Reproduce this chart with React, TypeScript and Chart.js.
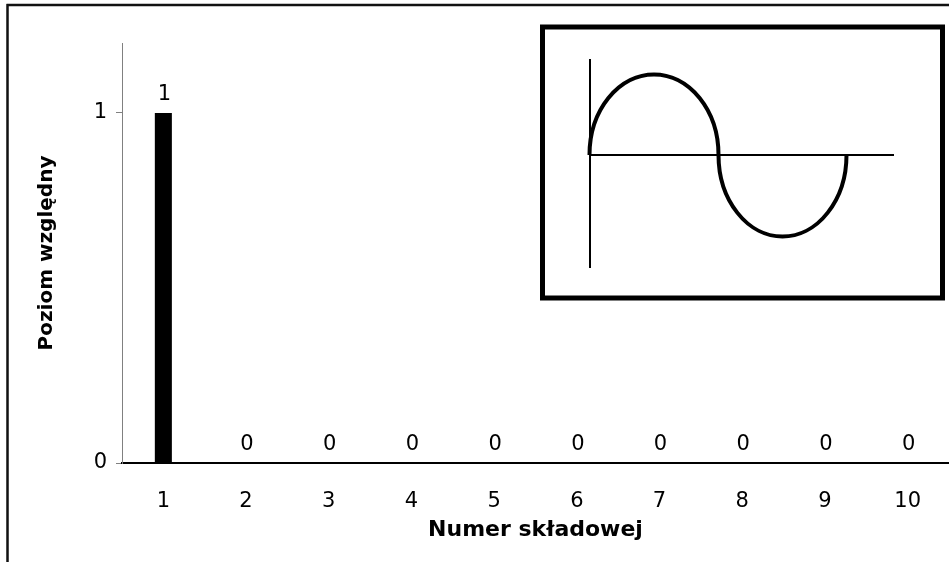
import React, { useEffect, useRef } from "react";
import { Chart, registerables } from "chart.js";

Chart.register(...registerables);

const categories: string[] = ["1", "2", "3", "4", "5", "6", "7", "8", "9", "10"];
const levels: number[] = [1, 0, 0, 0, 0, 0, 0, 0, 0, 0];
const yTicks: number[] = [0, 1];
const yMax = 1.2;
const xTitle = "Numer składowej";
const yTitle = "Poziom względny";

const FONT = "'DejaVu Sans', Verdana, sans-serif";

const framePlugin = {
  id: "frame",
  beforeDraw(chart: any) {
    const ctx = chart.ctx;
    ctx.save();
    ctx.fillStyle = "#ffffff";
    ctx.fillRect(0, 0, chart.width, chart.height);
    ctx.strokeStyle = "#111111";
    ctx.lineWidth = 2.5;
    ctx.beginPath();
    ctx.moveTo(6.5, 5);
    ctx.lineTo(chart.width, 5);
    ctx.moveTo(7.5, 4);
    ctx.lineTo(7.5, chart.height);
    ctx.stroke();
    ctx.restore();
  },
};

const insetPlugin = {
  id: "inset",
  afterDraw(chart: any) {
    const ctx = chart.ctx;
    ctx.save();
    ctx.strokeStyle = "#000000";
    ctx.lineWidth = 5;
    ctx.strokeRect(542.5, 27, 400, 271);
    ctx.lineWidth = 2;
    ctx.beginPath();
    ctx.moveTo(590, 59);
    ctx.lineTo(590, 268);
    ctx.moveTo(590, 155);
    ctx.lineTo(894, 155);
    ctx.stroke();
    ctx.lineWidth = 4;
    ctx.beginPath();
    ctx.ellipse(654, 155, 64.5, 80.5, 0, Math.PI, 2 * Math.PI, false);
    ctx.stroke();
    ctx.beginPath();
    ctx.ellipse(782.5, 155, 64, 81.5, 0, 0, Math.PI, false);
    ctx.stroke();
    ctx.restore();
  },
};

const labelPlugin = {
  id: "valueLabels",
  afterDatasetsDraw(chart: any) {
    const ctx = chart.ctx;
    const meta = chart.getDatasetMeta(0);
    ctx.save();
    ctx.font = `21px ${FONT}`;
    ctx.fillStyle = "#000000";
    ctx.textAlign = "center";
    ctx.textBaseline = "alphabetic";
    meta.data.forEach((el: any, i: number) => {
      ctx.fillText(String(levels[i]), el.x + 1, el.y - 13.5);
    });
    ctx.restore();
  },
};

export default function App() {
  const ref = useRef<HTMLCanvasElement>(null);
  useEffect(() => {
    if (!ref.current) return;
    const chart = new Chart(ref.current, {
      type: "bar",
      data: {
        labels: categories,
        datasets: [
          {
            data: levels,
            backgroundColor: "#000000",
            borderWidth: 0,
            categoryPercentage: 1,
            barPercentage: 0.206,
          },
        ],
      },
      options: {
        responsive: false,
        animation: false,
        layout: { padding: { left: 10, top: 43, right: 0, bottom: 0 } },
        plugins: {
          legend: { display: false },
          tooltip: { enabled: false },
        },
        scales: {
          x: {
            afterFit: (scale: any) => {
              scale.height = 99;
            },
            grid: { display: false },
            border: { display: true, color: "#000000", width: 2 },
            ticks: {
              color: "#000000",
              font: { family: FONT, size: 21 },
              padding: 18,
              maxRotation: 0,
            },
            title: {
              display: true,
              text: xTitle,
              color: "#000000",
              font: { family: FONT, size: 22, weight: "bold" },
              padding: { top: 0, bottom: 19 },
            },
          },
          y: {
            min: 0,
            max: yMax,
            afterFit: (scale: any) => {
              scale.width = 112;
            },
            afterBuildTicks: (scale: any) => {
              scale.ticks = yTicks.map((v) => ({ value: v }));
            },
            grid: {
              drawOnChartArea: false,
              drawTicks: true,
              tickLength: 6,
              color: "#808080",
            },
            border: { display: true, color: "#808080", width: 1 },
            ticks: {
              color: "#000000",
              font: { family: FONT, size: 21 },
              padding: 9,
              stepSize: 1,
              includeBounds: false,
            },
            title: {
              display: true,
              text: yTitle,
              color: "#000000",
              font: { family: FONT, size: 20, weight: "bold" },
              padding: { top: 25, bottom: 0 },
            },
          },
        },
      },
      plugins: [framePlugin, labelPlugin, insetPlugin],
    });
    return () => chart.destroy();
  }, []);
  return (
    <div style={{ position: "absolute", left: 0, top: 0, width: 949, height: 562 }}>
      <canvas ref={ref} width={949} height={562} />
    </div>
  );
}
